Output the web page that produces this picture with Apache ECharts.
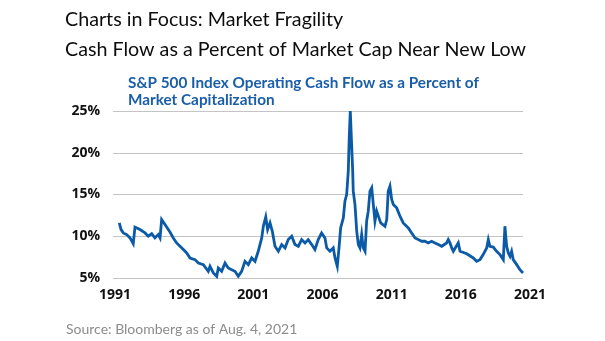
<!DOCTYPE html>
<html>
<head>
<meta charset="utf-8">
<script src="https://cdn.jsdelivr.net/npm/echarts@6/dist/echarts.min.js"></script>
<style>
  html, body { margin: 0; padding: 0; background: #fff; }
  #chart { width: 605px; height: 341px; }
</style>
</head>
<body>
<div id="chart"></div>
<script>
// Dates (decimal years) and values (%)
const years = [
  1991.47, 1991.60, 1991.77, 1992.02, 1992.27, 1992.51, 1992.64, 1993.01, 1993.39, 1993.63,
  1993.89, 1994.13, 1994.38, 1994.51, 1994.63, 1994.88, 1995.25, 1995.50, 1995.75, 1996.00,
  1996.25, 1996.50, 1996.75, 1997.12, 1997.37, 1997.74, 1998.11, 1998.24, 1998.49, 1998.74,
  1998.86, 1999.11, 1999.36, 1999.60, 1999.86, 2000.10, 2000.35, 2000.60, 2000.85, 2001.10,
  2001.35, 2001.60, 2001.84, 2002.10, 2002.22, 2002.40, 2002.54, 2002.72, 2002.89, 2003.09,
  2003.34, 2003.59, 2003.84, 2004.08, 2004.34, 2004.58, 2004.83, 2005.08, 2005.33, 2005.57,
  2005.83, 2006.07, 2006.32, 2006.57, 2006.69, 2006.82, 2006.95, 2007.19, 2007.44, 2007.57,
  2007.74, 2007.89, 2007.99, 2008.19, 2008.31, 2008.44, 2008.56, 2008.63, 2008.71, 2008.81,
  2008.89, 2008.93, 2009.06, 2009.19, 2009.31, 2009.43, 2009.56, 2009.68, 2009.81, 2009.93,
  2010.05, 2010.18, 2010.31, 2010.43, 2010.55, 2010.68, 2010.80, 2010.98, 2011.30, 2011.43,
  2011.54, 2011.67, 2011.80, 2011.92, 2012.17, 2012.42, 2012.66, 2012.79, 2013.04, 2013.29,
  2013.54, 2013.78, 2014.04, 2014.28, 2014.53, 2014.78, 2015.03, 2015.28, 2015.53, 2015.65,
  2015.90, 2016.02, 2016.15, 2016.28, 2016.40, 2016.52, 2016.77, 2016.90, 2017.02, 2017.40,
  2017.89, 2018.14, 2018.39, 2018.63, 2018.89, 2019.01, 2019.13, 2019.38, 2019.63, 2019.88,
  2020.13, 2020.25, 2020.38, 2020.50, 2020.63, 2020.75, 2020.87, 2021.13, 2021.37, 2021.60
];
const cashFlowPct = [
  11.6, 10.8, 10.4, 10.2, 9.8, 9.1, 11.1, 10.8, 10.4, 10.0,
  10.3, 9.8, 10.2, 9.8, 12.0, 11.4, 10.5, 9.8, 9.2, 8.8,
  8.4, 8.0, 7.4, 7.2, 6.8, 6.6, 5.8, 6.4, 5.6, 5.2,
  6.2, 5.8, 6.8, 6.2, 6.0, 5.8, 5.2, 5.8, 7.0, 6.6,
  7.4, 7.0, 8.2, 9.8, 11.2, 12.3, 10.8, 11.6, 10.6, 8.8,
  8.2, 9.0, 8.6, 9.6, 10.0, 9.0, 8.8, 9.6, 9.2, 9.6,
  9.0, 8.4, 9.6, 10.4, 10.6, 9.8, 8.6, 8.2, 8.6, 7.4,
  6.4, 9.0, 11.0, 12.2, 14.2, 15.0, 17.8, 21.8, 25.0, 21.0,
  17.8, 15.4, 13.8, 10.6, 9.0, 8.6, 10.2, 8.6, 8.2, 11.8,
  13.0, 15.4, 15.8, 13.8, 11.8, 13.0, 12.8, 11.6, 11.2, 12.0,
  15.4, 16.0, 14.4, 13.8, 13.4, 12.4, 11.6, 11.6, 11.0, 10.4,
  9.8, 9.6, 9.4, 9.4, 9.2, 9.4, 9.2, 9.0, 8.8, 8.6,
  9.2, 9.6, 9.2, 8.6, 8.2, 8.4, 9.2, 8.2, 8.4, 7.9,
  7.4, 7.0, 7.2, 7.8, 8.6, 9.6, 8.8, 8.7, 8.2, 7.8,
  7.2, 11.2, 8.8, 8.0, 7.6, 8.2, 7.2, 6.6, 6.0, 5.6
];
const yearTicks = [1991, 1996, 2001, 2006, 2011, 2016, 2021];
const pctTicks = [5, 10, 15, 20, 25];

const seriesData = years.map((y, i) => [y, cashFlowPct[i]]);

const chart = echarts.init(document.getElementById('chart'), null, { renderer: 'canvas' });
chart.setOption({
  animation: false,
  backgroundColor: '#ffffff',
  title: [
    {
      text: 'Charts in Focus: Market Fragility',
      left: 60, top: 5,
      textStyle: { fontFamily: 'Lato', fontSize: 19.7, fontWeight: 'normal', color: '#0d0d0d' }
    },
    {
      text: 'Cash Flow as a Percent of Market Cap Near New Low',
      left: 60, top: 35,
      textStyle: { fontFamily: 'Lato', fontSize: 19.7, fontWeight: 'normal', color: '#0d0d0d' }
    },
    {
      text: 'S&P 500 Index Operating Cash Flow as a Percent of\nMarket Capitalization',
      left: 123, top: 70,
      textStyle: { fontFamily: 'Lato', fontSize: 15.3, fontWeight: 'bold', color: '#1a5ea9', lineHeight: 17 }
    },
    {
      text: 'Source: Bloomberg as of Aug. 4, 2021',
      left: 61, top: 317,
      textStyle: { fontFamily: 'Lato', fontSize: 14, fontWeight: 'normal', color: '#8c8c8c' }
    }
  ],
  grid: [
    { left: 113, right: 82, top: 111, bottom: 63 },
    { left: 115, right: 75, top: 111, bottom: 63 }
  ],
  xAxis: [
    {
      type: 'value', gridIndex: 0, min: 1991, max: 2021.6,
      axisLine: { show: false }, axisTick: { show: false },
      axisLabel: { show: false }, splitLine: { show: false }
    },
    {
      type: 'value', gridIndex: 1, min: yearTicks[0], max: yearTicks[yearTicks.length - 1], interval: 5,
      axisLine: { show: false }, axisTick: { show: false }, splitLine: { show: false },
      axisLabel: {
        margin: 10, color: '#111111', fontFamily: 'Open Sans', fontWeight: 'bold', fontSize: 14,
        formatter: v => String(v)
      }
    }
  ],
  yAxis: [
    {
      type: 'value', gridIndex: 0, min: pctTicks[0], max: pctTicks[pctTicks.length - 1], interval: 5,
      axisLine: { show: false }, axisTick: { show: false },
      splitLine: { lineStyle: { color: '#c4c4c4', width: 1 } },
      axisLabel: {
        margin: 13, color: '#111111', fontFamily: 'Open Sans', fontWeight: 'bold', fontSize: 14,
        formatter: '{value}%'
      }
    },
    {
      type: 'value', gridIndex: 1, min: 5, max: 25, show: false
    }
  ],
  series: [
    {
      type: 'line', xAxisIndex: 0, yAxisIndex: 0,
      data: seriesData, showSymbol: false, symbol: 'none',
      lineStyle: { color: '#0b5aa8', width: 2.8, join: 'miter' },
      z: 3
    },
    {
      type: 'line', xAxisIndex: 1, yAxisIndex: 1, data: [], showSymbol: false
    }
  ]
});
</script>
</body>
</html>
